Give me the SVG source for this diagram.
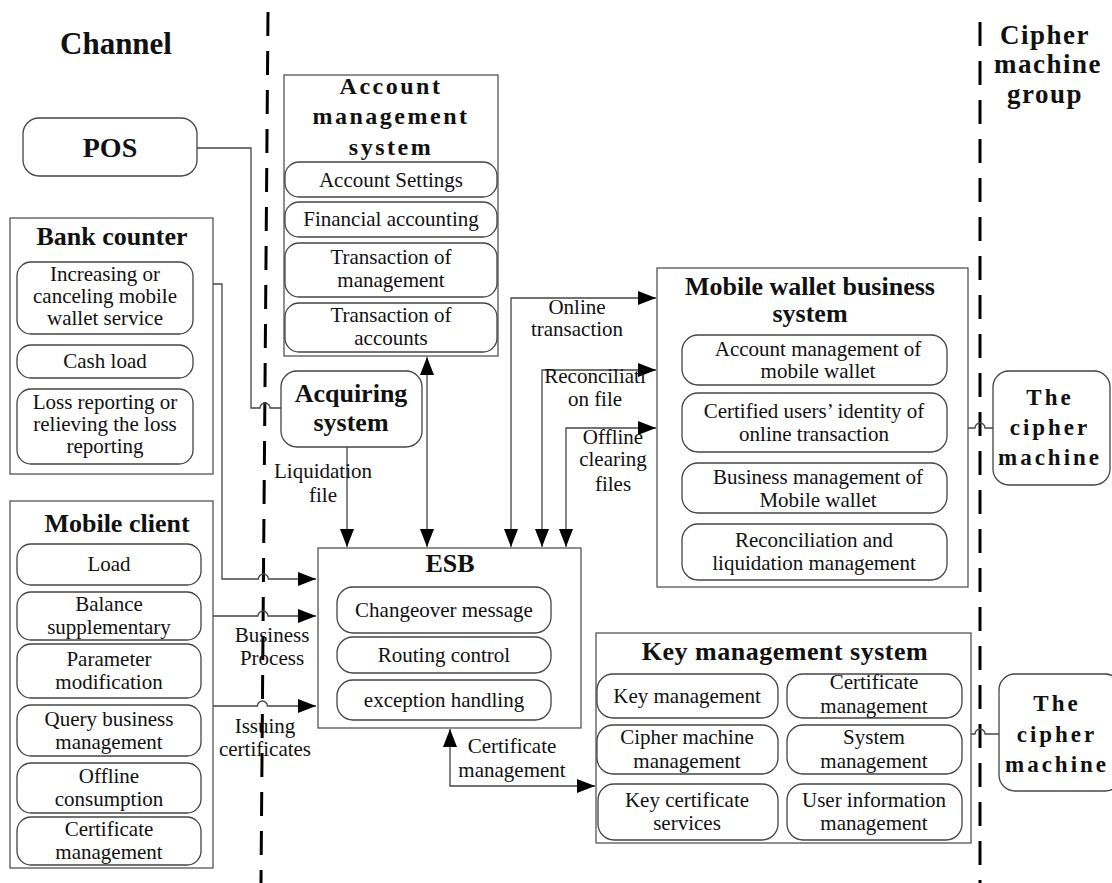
<svg xmlns="http://www.w3.org/2000/svg" width="1112" height="883" viewBox="0 0 1112 883">
<style>
text{font-family:"Liberation Serif","Times New Roman",serif;fill:#111;text-anchor:middle}
.t{font-size:21px}
.b{font-size:26px;font-weight:bold}
.box{fill:#fff;stroke:#555;stroke-width:1.3}
.item{fill:#fff;stroke:#444;stroke-width:1.3}
.c{fill:none;stroke:#444;stroke-width:1.3}
.dash{stroke:#000;stroke-width:3;stroke-dasharray:24 15;fill:none}
</style>
<defs>
<marker id="ar" markerUnits="userSpaceOnUse" markerWidth="18" markerHeight="14" refX="18" refY="7" orient="auto-start-reverse">
<path d="M0,0 L18,7 L0,14 z" fill="#000"/>
</marker>
</defs>
<rect width="1112" height="883" fill="#fff"/>
<g id="separators">
<line class="dash" x1="268" y1="12" x2="261" y2="883"/>
<line class="dash" x1="980" y1="22" x2="980" y2="883"/>
</g>
<g id="headers">
<text class="b" x="116" y="54" style="font-size:31px">Channel</text>
<text class="b" x="1045" y="44" style="font-size:27px;letter-spacing:1.5px">Cipher</text>
<text class="b" x="1048" y="73" style="font-size:27px;letter-spacing:1.5px">machine</text>
<text class="b" x="1045" y="103" style="font-size:27px;letter-spacing:1.5px">group</text>
</g>
<g id="connectors">
<path class="c" d="M197,148 H251 V408 H260 a5,5 0 0 1 10,0 H281"/>
<path class="c" d="M193,284 H222 V579 H258.4 a5,5 0 0 1 10,0 H316" marker-end="url(#ar)"/>
<path class="c" d="M213,616 H258 a5,5 0 0 1 10,0 H316" marker-end="url(#ar)"/>
<path class="c" d="M213,706 H257.4 a5,5 0 0 1 10,0 H316" marker-end="url(#ar)"/>
<path class="c" d="M347,447 V547" marker-end="url(#ar)"/>
<path class="c" d="M427,357 V547" marker-start="url(#ar)" marker-end="url(#ar)"/>
<path class="c" d="M656,298 H511 V547" marker-start="url(#ar)" marker-end="url(#ar)"/>
<path class="c" d="M656,370 H542 V547" marker-start="url(#ar)" marker-end="url(#ar)"/>
<path class="c" d="M656,428 H566 V547" marker-start="url(#ar)" marker-end="url(#ar)"/>
<path class="c" d="M450,729 V786 H595" marker-start="url(#ar)" marker-end="url(#ar)"/>
<path class="c" d="M968,428 H975 a5,5 0 0 1 10,0 H993"/>
<path class="c" d="M971,734 H975 a5,5 0 0 1 10,0 H999"/>
<text class="t" x="323" y="478">Liquidation</text>
<text class="t" x="323" y="502">file</text>
<text class="t" x="577" y="314">Online</text>
<text class="t" x="577" y="336">transaction</text>
<text class="t" x="595" y="383">Reconciliati</text>
<text class="t" x="595" y="406">on file</text>
<text class="t" x="613" y="444">Offline</text>
<text class="t" x="613" y="466">clearing</text>
<text class="t" x="613" y="491">files</text>
<text class="t" x="272" y="642">Business</text>
<text class="t" x="272" y="665">Process</text>
<text class="t" x="265" y="733">Issuing</text>
<text class="t" x="265" y="756">certificates</text>
<text class="t" x="512" y="753">Certificate</text>
<text class="t" x="512" y="777">management</text>
</g>
<g id="pos">
<rect class="item" x="23" y="118" width="174" height="58" rx="16"/>
<text class="b" x="110" y="157" style="font-size:28px">POS</text>
</g>
<g id="bank-counter">
<rect class="box" x="10" y="218" width="203" height="256"/>
<text class="b" x="112" y="245">Bank counter</text>
<rect class="item" x="17" y="262" width="176" height="72" rx="14"/>
<text class="t" x="105" y="281">Increasing or</text>
<text class="t" x="105" y="303">canceling mobile</text>
<text class="t" x="105" y="325">wallet service</text>
<rect class="item" x="17" y="345" width="176" height="33" rx="14"/>
<text class="t" x="105" y="368">Cash load</text>
<rect class="item" x="17" y="389" width="176" height="75" rx="14"/>
<text class="t" x="105" y="409">Loss reporting or</text>
<text class="t" x="105" y="431">relieving the loss</text>
<text class="t" x="105" y="453">reporting</text>
</g>
<g id="mobile-client">
<rect class="box" x="10" y="501" width="203" height="367"/>
<text class="b" x="117" y="532">Mobile client</text>
<rect class="item" x="17" y="544" width="184" height="41" rx="14"/>
<text class="t" x="109" y="571">Load</text>
<rect class="item" x="17" y="592" width="184" height="48" rx="14"/>
<text class="t" x="109" y="611">Balance</text>
<text class="t" x="109" y="634">supplementary</text>
<rect class="item" x="17" y="644" width="184" height="54" rx="14"/>
<text class="t" x="109" y="666">Parameter</text>
<text class="t" x="109" y="689">modification</text>
<rect class="item" x="17" y="705" width="184" height="51" rx="14"/>
<text class="t" x="109" y="726">Query business</text>
<text class="t" x="109" y="749">management</text>
<rect class="item" x="17" y="763" width="184" height="50" rx="14"/>
<text class="t" x="109" y="783">Offline</text>
<text class="t" x="109" y="806">consumption</text>
<rect class="item" x="17" y="817" width="184" height="48" rx="14"/>
<text class="t" x="109" y="836">Certificate</text>
<text class="t" x="109" y="859">management</text>
</g>
<g id="account-management">
<rect class="box" x="284" y="75" width="214" height="281"/>
<text class="b" x="391" y="94" style="font-size:24px;letter-spacing:2.5px">Account</text>
<text class="b" x="391" y="124" style="font-size:24px;letter-spacing:2.5px">management</text>
<text class="b" x="391" y="155" style="font-size:24px;letter-spacing:2.5px">system</text>
<rect class="item" x="285" y="162" width="212" height="35" rx="14"/>
<text class="t" x="391" y="187">Account Settings</text>
<rect class="item" x="285" y="202" width="212" height="35" rx="14"/>
<text class="t" x="391" y="226">Financial accounting</text>
<rect class="item" x="285" y="243" width="212" height="54" rx="14"/>
<text class="t" x="391" y="264">Transaction of</text>
<text class="t" x="391" y="287">management</text>
<rect class="item" x="285" y="303" width="212" height="49" rx="14"/>
<text class="t" x="391" y="322">Transaction of</text>
<text class="t" x="391" y="345">accounts</text>
</g>
<g id="acquiring">
<rect class="item" x="281" y="371" width="141" height="76" rx="16"/>
<text class="b" x="351" y="402">Acquiring</text>
<text class="b" x="351" y="431">system</text>
</g>
<g id="esb">
<rect class="box" x="318" y="548" width="263" height="180"/>
<text class="b" x="450" y="572">ESB</text>
<rect class="item" x="337" y="587" width="214" height="46" rx="16"/>
<text class="t" x="444" y="617">Changeover message</text>
<rect class="item" x="337" y="637" width="214" height="36" rx="16"/>
<text class="t" x="444" y="662">Routing control</text>
<rect class="item" x="337" y="680" width="214" height="40" rx="16"/>
<text class="t" x="444" y="707">exception handling</text>
</g>
<g id="mobile-wallet">
<rect class="box" x="657" y="268" width="311" height="319"/>
<text class="b" x="810" y="295">Mobile wallet business</text>
<text class="b" x="810" y="322">system</text>
<rect class="item" x="682" y="335" width="265" height="50" rx="16"/>
<text class="t" x="818" y="356">Account management of</text>
<text class="t" x="818" y="378">mobile wallet</text>
<rect class="item" x="682" y="393" width="265" height="59" rx="16"/>
<text class="t" x="814" y="418">Certified users’ identity of</text>
<text class="t" x="814" y="441">online transaction</text>
<rect class="item" x="682" y="463" width="265" height="50" rx="16"/>
<text class="t" x="818" y="484">Business management of</text>
<text class="t" x="818" y="507">Mobile wallet</text>
<rect class="item" x="682" y="524" width="265" height="56" rx="16"/>
<text class="t" x="814" y="547">Reconciliation and</text>
<text class="t" x="814" y="570">liquidation management</text>
</g>
<g id="key-management">
<rect class="box" x="596" y="633" width="375" height="210"/>
<text class="b" x="785" y="660" style="letter-spacing:0.5px">Key management system</text>
<rect class="item" x="597" y="674" width="181" height="44" rx="16"/>
<text class="t" x="687" y="703">Key management</text>
<rect class="item" x="787" y="674" width="175" height="44" rx="16"/>
<text class="t" x="874" y="689">Certificate</text>
<text class="t" x="874" y="713">management</text>
<rect class="item" x="597" y="725" width="181" height="49" rx="16"/>
<text class="t" x="687" y="744">Cipher machine</text>
<text class="t" x="687" y="768">management</text>
<rect class="item" x="787" y="725" width="175" height="49" rx="16"/>
<text class="t" x="874" y="744">System</text>
<text class="t" x="874" y="768">management</text>
<rect class="item" x="598" y="784" width="180" height="56" rx="16"/>
<text class="t" x="687" y="807">Key certificate</text>
<text class="t" x="687" y="830">services</text>
<rect class="item" x="787" y="784" width="175" height="56" rx="16"/>
<text class="t" x="874" y="807">User information</text>
<text class="t" x="874" y="830">management</text>
</g>
<g id="cipher-machine-1">
<rect class="item" x="993" y="371" width="117" height="114" rx="16"/>
<text class="b" x="1050" y="405" style="font-size:23px;letter-spacing:3px">The</text>
<text class="b" x="1050" y="435" style="font-size:23px;letter-spacing:3px">cipher</text>
<text class="b" x="1050" y="465" style="font-size:23px;letter-spacing:3px">machine</text>
</g>
<g id="cipher-machine-2">
<rect class="item" x="999" y="674" width="122" height="117" rx="16"/>
<text class="b" x="1057" y="711" style="font-size:23px;letter-spacing:3px">The</text>
<text class="b" x="1057" y="742" style="font-size:23px;letter-spacing:3px">cipher</text>
<text class="b" x="1057" y="772" style="font-size:23px;letter-spacing:3px">machine</text>
</g>
</svg>
